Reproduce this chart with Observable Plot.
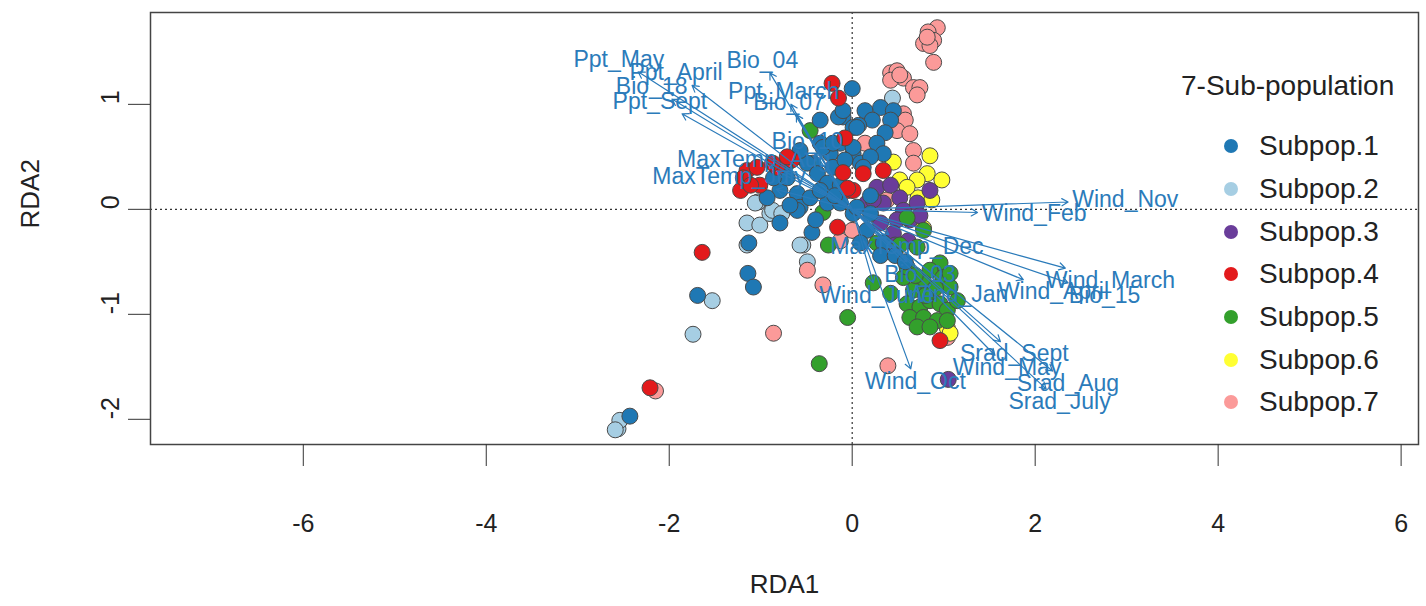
<!DOCTYPE html>
<html><head><meta charset="utf-8">
<script src="https://cdn.jsdelivr.net/npm/d3@7"></script>
<script src="https://cdn.jsdelivr.net/npm/@observablehq/plot@0.6"></script>
<style>
body{margin:0;background:#fff;font-family:"Liberation Sans",Arial,sans-serif;}
#wrap{position:relative;width:1426px;height:606px;}
#legend{position:absolute;left:1181px;top:64px;color:#222;font-size:28px;}
#legend .row{display:flex;align-items:center;height:42.7px;}
#legend .title{height:44px;line-height:44px;margin-bottom:17px;}
</style></head><body><div id="wrap"></div>
<script>
// ---------- data ----------
const subpops = ["Subpop.1","Subpop.2","Subpop.3","Subpop.4","Subpop.5","Subpop.6","Subpop.7"];
const colors  = ["#1F78B4","#A6CEE3","#6A3D9A","#E31A1C","#33A02C","#FFFF33","#FB9A99"];
const legendTitle = "7-Sub-population";

const s1 = [[0,1.15],[0.14,0.94],[0.31,0.97],[0.45,0.94],[0.42,0.85],[0.22,0.85],[0.07,0.80],[-0.10,0.88],[0.36,0.73],[0.27,0.63],[0.34,0.53],[-0.15,0.88],[-0.10,0.94],[0.01,0.78],[-0.24,0.53],[-0.13,0.63],[-0.71,0.44],[-0.57,0.50],[-0.43,0.44],[-0.35,0.63],[-0.79,0.18],[-0.60,0.15],[-0.57,0.02],[-0.79,-0.13],[-0.49,0.44],[-0.38,0.34],[-0.27,0.25],[-0.21,0.40],[-0.46,0.11],[-0.27,0.06],[-0.13,0.06],[0.01,-0.04],[-0.57,0.56],[-0.32,0.59],[-0.21,0.63],[0.01,0.53],[0.09,0.44],[-0.71,0.30],[-0.93,0.11],[0.05,0.78],[0.01,0.59],[0.20,0.50],[0.12,0.40],[0.05,0.02],[0.20,-0.04],[0.16,-0.20],[0.34,-0.32],[0.09,-0.32],[-0.35,0.85],[-0.08,0.47],[-0.13,0.23],[0.20,0.13],[0.31,-0.44],[0.47,-0.44],[0.58,-0.50],[-1.13,-0.32],[-1.14,-0.61],[-1.08,-0.74],[-1.69,-0.82],[-0.60,-0.01],[-0.44,-0.22],[-2.43,-1.97],[-0.68,0.04],[-0.35,0.18],[-0.19,0.13],[-0.40,-0.10],[-0.86,0.30]];
const s2 = [[-1.53,-0.87],[-1.74,-1.19],[-0.54,-0.34],[-0.49,-0.50],[-1.15,-0.13],[-1.01,-0.15],[-0.90,-0.04],[-2.56,-2.09],[-2.54,-2.01],[-2.59,-2.10],[-1.03,0.07],[-0.87,-0.01],[-0.77,-0.04],[-1.15,-0.34],[-0.57,-0.34],[-0.81,0.35],[-1.06,0.06],[0.44,1.06]];
const s3 = [[0.16,0.06],[0.27,0.21],[0.42,0.23],[0.34,0.06],[0.52,0.11],[0.56,-0.01],[0.71,0.06],[0.23,0.09],[0.49,-0.10],[0.63,-0.10],[0.45,-0.23],[0.61,-0.30],[0.31,-0.13],[0.85,0.18],[1.05,-1.62],[0.47,-0.34],[0.34,-0.32],[0.74,-0.06]];
const s4 = [[-0.22,1.20],[-0.15,1.06],[-0.08,0.68],[0.12,0.34],[-0.10,0.35],[-0.04,0.18],[0.34,0.37],[0.01,0.18],[-1.15,0.37],[-1.04,0.40],[-1.22,0.18],[-1.01,0.23],[-0.82,0.40],[-0.66,0.47],[-1.19,0.30],[-1.11,0.23],[-0.87,0.44],[-0.71,0.50],[-0.16,-0.17],[-1.64,-0.41],[-2.21,-1.70],[0.96,-1.25],[-0.05,0.20]];
const s5 = [[-0.46,0.75],[-0.32,-0.03],[-0.26,-0.34],[-0.05,-1.03],[-0.36,-1.47],[0.78,-0.20],[0.60,-0.08],[0.27,-0.32],[0.52,-0.34],[0.71,-0.36],[0.96,-0.51],[0.85,-0.58],[0.99,-0.65],[1.07,-0.74],[0.78,-0.70],[0.67,-0.77],[0.60,-0.90],[0.74,-0.93],[0.85,-0.87],[0.96,-0.90],[1.04,-0.96],[0.63,-1.03],[0.78,-1.03],[0.93,-1.06],[1.04,-1.06],[0.71,-1.12],[0.85,-1.12],[0.23,-0.70],[0.42,-0.80],[0.56,-0.65],[0.60,-0.55],[1.07,-0.61],[0.91,-0.75],[0.80,-0.82],[0.69,-0.63],[1.15,-0.87]];
const s6 = [[0.45,0.45],[0.85,0.51],[0.82,0.34],[0.98,0.28],[0.71,0.28],[0.52,0.28],[0.72,0.11],[0.87,0.09],[0.60,0.21],[0.78,-0.18],[1.04,-1.13],[1.07,-1.18]];
const s7 = [[0.93,1.73],[0.83,1.69],[0.89,1.61],[0.78,1.58],[0.85,1.56],[0.89,1.40],[0.82,1.64],[0.42,1.30],[0.49,1.32],[0.56,1.25],[0.42,1.23],[0.67,1.16],[0.74,1.16],[0.71,1.09],[0.52,1.28],[0.56,0.91],[0.58,0.85],[0.49,0.75],[0.63,0.72],[0.67,0.56],[0.67,0.44],[0.14,0.63],[0.38,0.09],[0,-0.20],[-0.13,-0.30],[-0.49,-0.58],[-0.32,-0.72],[-0.86,-1.18],[-2.15,-1.73],[0.39,-1.49],[1.04,-1.22]];

// biplot arrows (environmental variables): tip coordinates
const arrowNames = ["Ppt_May","Ppt_April","Bio_18","Ppt_Sept","Bio_04","Ppt_March","Bio_07","Bio_10","MaxTemp_Aug","MaxTemp_July",
  "Wind_Nov","Wind_Feb","MaxTemp_Dec","Wind_March","Bio_15","Wind_April","Bio_03","Wind_Jan","Wind_June","Wind_Oct","Srad_Sept","Wind_May","Srad_Aug","Srad_July"];
const arrowX = [-2.34,-1.75,-1.97,-1.86,-0.90,-0.67,-0.61,-0.40,-0.81,-0.83, 2.36,1.37,0.40,2.33,2.36,1.87,0.60,0.98,0.23,0.64,1.62,1.56,2.19,2.12];
const arrowY = [1.31,1.18,1.05,0.91,1.30,1.00,0.90,0.53,0.36,0.19, 0.07,-0.03,-0.24,-0.56,-0.70,-0.67,-0.50,-0.69,-0.70,-1.52,-1.26,-1.39,-1.54,-1.71];

const xTicks = [-6,-4,-2,0,2,4,6];
const yTicks = [-2,-1,0,1];
const xLabel = "RDA1", yLabel = "RDA2";

// ---------- layout ----------
const W = 1426, H = 606, mL = 150, mR = 8, mT = 12, mB = 162;
const xDomain = [-7.67, 6.19], yDomain = [-2.24, 1.875];
const arrowColor = "#2b7bba", labelFont = 23;

const groups = [s2, s7, s6, s3, s5, s1, s4];
const groupIdx = [1, 6, 5, 2, 4, 0, 3];
const points = [];
groups.forEach((g, k) => g.forEach(([x, y]) => points.push({x, y, pop: subpops[groupIdx[k]]})));

// arrow label placement (vegan ordiArrowTextXY rule)
const xs = Plot.scale({x: {domain: xDomain, range: [mL, W - mR]}});
const ys = Plot.scale({y: {domain: yDomain, range: [H - mB, mT]}});
const ctx = document.createElement("canvas").getContext("2d");
ctx.font = `${labelFont}px "Liberation Sans", Arial, sans-serif`;
const ox = xs.apply(0), oy = ys.apply(0);
const arrows = arrowNames.map((name, i) => {
  const tx = xs.apply(arrowX[i]), ty = ys.apply(arrowY[i]);
  const w = ctx.measureText(name).width, h = 0.72 * labelFont;
  const dx = tx - ox, dy = ty - oy;
  let offx = Math.sign(dx) * (w / 2 + h / 4), offy = 0.75 * h * Math.sign(dy);
  const b = dy / dx, move = offy / b;
  if (isFinite(move) && Math.abs(move) <= Math.abs(offx)) offx = move; else offy = b * offx;
  return {name, x1: 0, y1: 0, x2: arrowX[i], y2: arrowY[i], lx: xs.invert(tx + offx), ly: ys.invert(ty + offy)};
});

const chart = Plot.plot({
  width: W, height: H, marginLeft: mL, marginRight: mR, marginTop: mT, marginBottom: mB,
  x: {domain: xDomain, axis: null},
  y: {domain: yDomain, axis: null},
  color: {domain: subpops, range: colors},
  style: {fontFamily: '"Liberation Sans", Arial, sans-serif', color: "#222", background: "#fff"},
  marks: [
    Plot.ruleX([0], {stroke: "#333", strokeDasharray: "2,3", strokeWidth: 1.2}),
    Plot.ruleY([0], {stroke: "#333", strokeDasharray: "2,3", strokeWidth: 1.2}),
    Plot.dot(points, {x: "x", y: "y", fill: "pop", r: 8, stroke: "#4a4a4a", strokeWidth: 1}),
    Plot.arrow(arrows, {x1: "x1", y1: "y1", x2: "x2", y2: "y2", stroke: arrowColor, strokeWidth: 1.2, headLength: 9}),
    Plot.text(arrows, {x: "lx", y: "ly", text: "name", fill: arrowColor, fontSize: labelFont}),
    Plot.frame({stroke: "#444", strokeWidth: 1.5}),
    Plot.axisX({ticks: xTicks, tickSize: 22, tickPadding: 48, fontSize: 25, tickFormat: d => String(d), label: null, stroke: "#333"}),
    Plot.axisY({ticks: yTicks, tickSize: 22, tickFormat: () => "", label: null, stroke: "#333"}),
    Plot.text(yTicks, {y: d => d, text: d => String(d), frameAnchor: "left", dx: -40, rotate: -90, fontSize: 25, fill: "#222"}),
    Plot.text([xLabel], {frameAnchor: "bottom", dy: 148, fontSize: 26, fill: "#222"}),
    Plot.text([yLabel], {frameAnchor: "left", dx: -120, rotate: -90, fontSize: 26, fill: "#222"})
  ]
});
const wrap = document.getElementById("wrap");
wrap.appendChild(chart);

// legend
const leg = document.createElement("div");
leg.id = "legend";
const t = document.createElement("div");
t.className = "title"; t.textContent = legendTitle;
leg.appendChild(t);
subpops.forEach((s, i) => {
  const row = document.createElement("div");
  row.className = "row";
  row.innerHTML = `<svg width="78" height="20"><circle cx="50" cy="10" r="7" fill="${colors[i]}"/></svg><span>${s}</span>`;
  leg.appendChild(row);
});
wrap.appendChild(leg);
</script>
</body></html>
